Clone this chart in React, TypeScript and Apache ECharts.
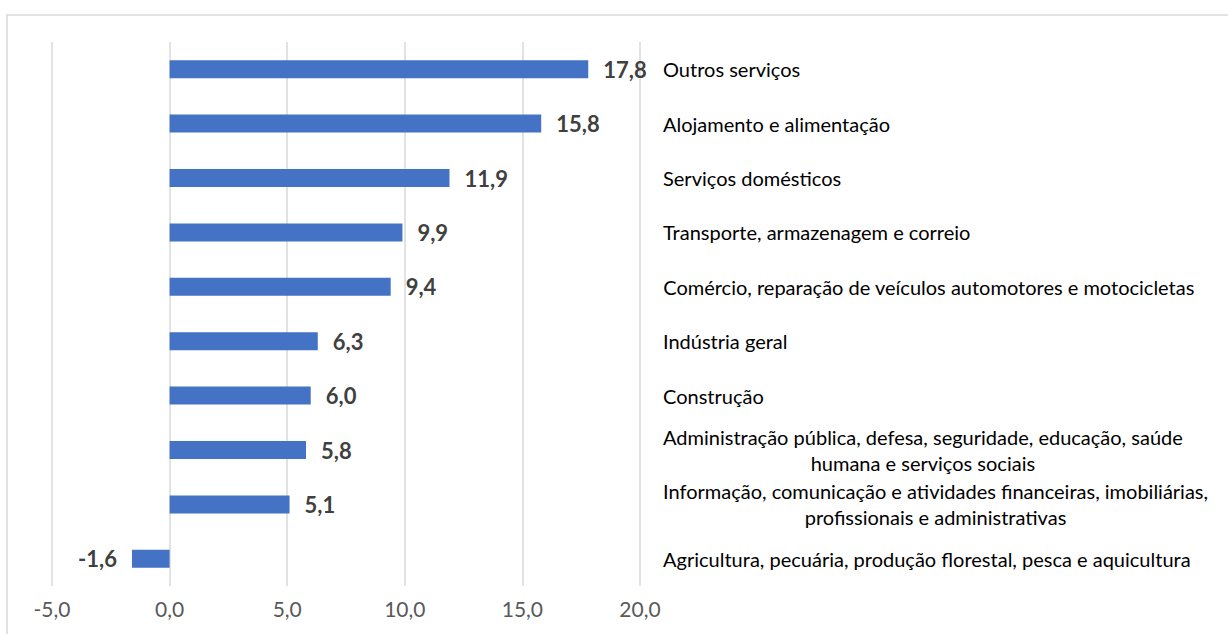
import React, { useEffect, useRef } from "react";
import * as echarts from "echarts";

const categories: string[] = [
  "Outros serviços",
  "Alojamento e alimentação",
  "Serviços domésticos",
  "Transporte, armazenagem e correio",
  "Comércio, reparação de veículos automotores e motocicletas",
  "Indústria geral",
  "Construção",
  "Administração pública, defesa, seguridade, educação, saúde\nhumana e serviços sociais",
  "Informação, comunicação e atividades financeiras, imobiliárias,\nprofissionais e administrativas",
  "Agricultura, pecuária, produção florestal, pesca e aquicultura",
];

const values: number[] = [17.8, 15.8, 11.9, 9.9, 9.4, 6.3, 6.0, 5.8, 5.1, -1.6];

const xMin = -5;
const xMax = 20;
const xInterval = 5;

const fmt = (v: number) => v.toFixed(1).replace(".", ",");

export default function App() {
  const ref = useRef<HTMLDivElement>(null);

  useEffect(() => {
    if (!ref.current) return;
    const chart = echarts.init(ref.current, undefined, { renderer: "svg" });
    const font = "Lato, 'Open Sans', sans-serif";
    chart.setOption({
      animation: false,
      backgroundColor: "#ffffff",
      grid: { left: 52, right: 588, top: 42, bottom: 48, containLabel: false },
      graphic: [
        {
          type: "rect",
          shape: { x: 7, y: 15, width: 1260, height: 660 },
          style: { fill: "none", stroke: "#d9d9d9", lineWidth: 1.5 },
          silent: true,
        },
      ],
      xAxis: {
        type: "value",
        min: xMin,
        max: xMax,
        interval: xInterval,
        axisLine: { show: false },
        axisTick: { show: false },
        splitLine: { show: true, lineStyle: { color: "#d9d9d9", width: 1.5 } },
        axisLabel: {
          formatter: (v: number) => fmt(v),
          color: "#595959",
          fontFamily: font,
          fontSize: 21,
          margin: 12,
        },
      },
      yAxis: {
        type: "category",
        data: categories,
        inverse: true,
        position: "right",
        axisLine: { show: false },
        axisTick: { show: false },
        splitLine: { show: false },
        axisLabel: {
          interval: 0,
          margin: 23,
          align: "left",
          fontFamily: font,
          fontSize: 20,
          color: "#000000",
          formatter: (v: string) =>
            v
              .split("\n")
              .map((s) => `{c|${s}}`)
              .join("\n"),
          rich: {
            c: {
              align: "center",
              fontFamily: font,
              fontSize: 20,
              color: "#000000",
              lineHeight: 26,
            },
          },
        },
      },
      series: [
        {
          type: "bar",
          barWidth: 18,
          itemStyle: { color: "#4472c4" },
          data: values.map((v) => ({
            value: v,
            label: { position: v < 0 ? "left" : "right" },
          })),
          label: {
            show: true,
            distance: 15,
            formatter: (p: any) => fmt(p.value),
            color: "#404040",
            fontWeight: "bold",
            fontFamily: font,
            fontSize: 22,
          },
        },
      ],
    });
    return () => chart.dispose();
  }, []);

  return (
    <div
      ref={ref}
      style={{ position: "absolute", left: 0, top: 0, width: 1228, height: 634 }}
    />
  );
}
